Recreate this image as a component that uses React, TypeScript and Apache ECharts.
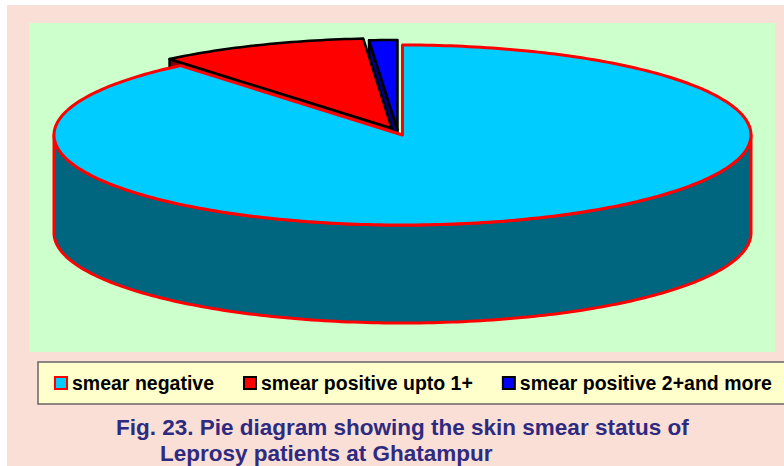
import React, { useEffect, useRef } from "react";
import * as echarts from "echarts";

// ---- data ----
const categories: string[] = [
  "smear negative",
  "smear positive upto 1+",
  "smear positive 2+and more",
];
const percentages: number[] = [89.0, 9.7, 1.3];
const captionLines: string[] = [
  "Fig. 23. Pie diagram showing the skin smear status of",
  "Leprosy patients at Ghatampur",
];

// ---- styles ----
const TOP_COLORS = ["#00CCFF", "#FF0000", "#0000FF"];
const SIDE_COLORS = ["#00667F", "#800000", "#000080"];
const EDGE_COLORS = ["#FF0000", "#000000", "#000000"];
const EDGE_WIDTHS = [3, 2.5, 2.5];
// pulled-out offset of each slice (pixels)
const EXPLODE_OFFSETS = [
  [0, 0],
  [-10.8, -6.7],
  [-5, -5],
];
const SLICE_Z = [4, 3, 2];
const FONT = "'Liberation Sans', Arial, Helvetica, sans-serif";

// pie geometry (pixels)
const CX = 402.5;
const CY = 135;
const RX = 348.5;
const RY = 90;
const DEPTH = 98;
const RAD = Math.PI / 180;

function renderSlice(idx: number) {
  return (params: any, api: any) => {
    const total = percentages.reduce((a, b) => a + b, 0);
    let before = 0;
    for (let k = 0; k < idx; k++) before += percentages[k];
    const v = api.value(0) as number;
    const a1 = 90 - (360 * before) / total;
    const a0 = a1 - (360 * v) / total;
    const cx = CX + EXPLODE_OFFSETS[idx][0];
    const cy = CY + EXPLODE_OFFSETS[idx][1];
    const pt = (a: number, d = 0) => [
      cx + RX * Math.cos(a * RAD),
      cy - RY * Math.sin(a * RAD) + d,
    ];
    const arc = (from: number, to: number, d = 0) => {
      const n = Math.max(2, Math.ceil(Math.abs(to - from)));
      const pts: number[][] = [];
      for (let j = 0; j <= n; j++) pts.push(pt(from + ((to - from) * j) / n, d));
      return pts;
    };
    const sideStyle = {
      fill: SIDE_COLORS[idx],
      stroke: EDGE_COLORS[idx],
      lineWidth: EDGE_WIDTHS[idx],
      lineJoin: "round",
    };
    const children: any[] = [];
    // radial cut faces that face the viewer
    const faces: number[] = [];
    if (Math.sin((a1 + 90) * RAD) < -1e-6) faces.push(a1);
    if (Math.sin((a0 - 90) * RAD) < -1e-6) faces.push(a0);
    faces.forEach((a) => {
      children.push({
        type: "polygon",
        shape: { points: [[cx, cy], pt(a), pt(a, DEPTH), [cx, cy + DEPTH]] },
        style: sideStyle,
      });
    });
    // front rim wall
    for (let k = -2; k <= 1; k++) {
      const lo = Math.max(a0, -180 + 360 * k);
      const hi = Math.min(a1, 360 * k);
      if (hi - lo > 0.01) {
        const pts = arc(lo, hi).concat(arc(hi, lo, DEPTH));
        children.push({ type: "polygon", shape: { points: pts }, style: sideStyle });
      }
    }
    // top face
    children.push({
      type: "polygon",
      shape: { points: [[cx, cy]].concat(arc(a0, a1)) },
      style: {
        fill: TOP_COLORS[idx],
        stroke: EDGE_COLORS[idx],
        lineWidth: EDGE_WIDTHS[idx],
        lineJoin: "round",
      },
    });
    return { type: "group", children };
  };
}

export default function App() {
  const ref = useRef<HTMLDivElement>(null);
  useEffect(() => {
    if (!ref.current) return;
    const chart = echarts.init(ref.current, undefined, { renderer: "svg" });
    const titleStyle = {
      fontFamily: FONT,
      fontWeight: "bold" as const,
      fontSize: 22.5,
      color: "#2E2A80",
    };
    chart.setOption({
      animation: false,
      backgroundColor: "#FFFFFF",
      graphic: [
        {
          type: "rect",
          z: 0,
          silent: true,
          shape: { x: 7, y: 5, width: 777, height: 461 },
          style: { fill: "#FADFD7" },
        },
        {
          type: "rect",
          z: 0,
          silent: true,
          shape: { x: 29, y: 23, width: 746, height: 329 },
          style: { fill: "#CCFFCC" },
        },
      ],
      title: [
        { text: captionLines[0], left: 116, top: 416, padding: 0, textStyle: titleStyle },
        { text: captionLines[1], left: 160, top: 442, padding: 0, textStyle: titleStyle },
      ],
      legend: {
        left: 38,
        top: 362,
        width: 800,
        orient: "horizontal",
        padding: [11, 30, 11, 16],
        itemWidth: 12,
        itemHeight: 12,
        itemGap: 29,
        backgroundColor: "#FFFFCC",
        borderColor: "#666666",
        borderWidth: 1.5,
        borderRadius: 0,
        selectedMode: false,
        textStyle: { fontFamily: FONT, fontWeight: "bold", fontSize: 19.5, color: "#000000" },
        data: categories.map((name, i) => ({
          name,
          icon: "rect",
          itemStyle: { color: TOP_COLORS[i], borderColor: EDGE_COLORS[i], borderWidth: 2 },
        })),
      },
      series: categories.map((name, idx) => ({
        type: "custom",
        name,
        coordinateSystem: "none",
        silent: true,
        z: SLICE_Z[idx],
        itemStyle: { color: TOP_COLORS[idx] },
        renderItem: renderSlice(idx),
        data: [{ name, value: percentages[idx] }],
      })),
    });
    return () => chart.dispose();
  }, []);
  return (
    <div
      ref={ref}
      style={{ position: "fixed", left: 0, top: 0, width: 784, height: 466 }}
    />
  );
}
